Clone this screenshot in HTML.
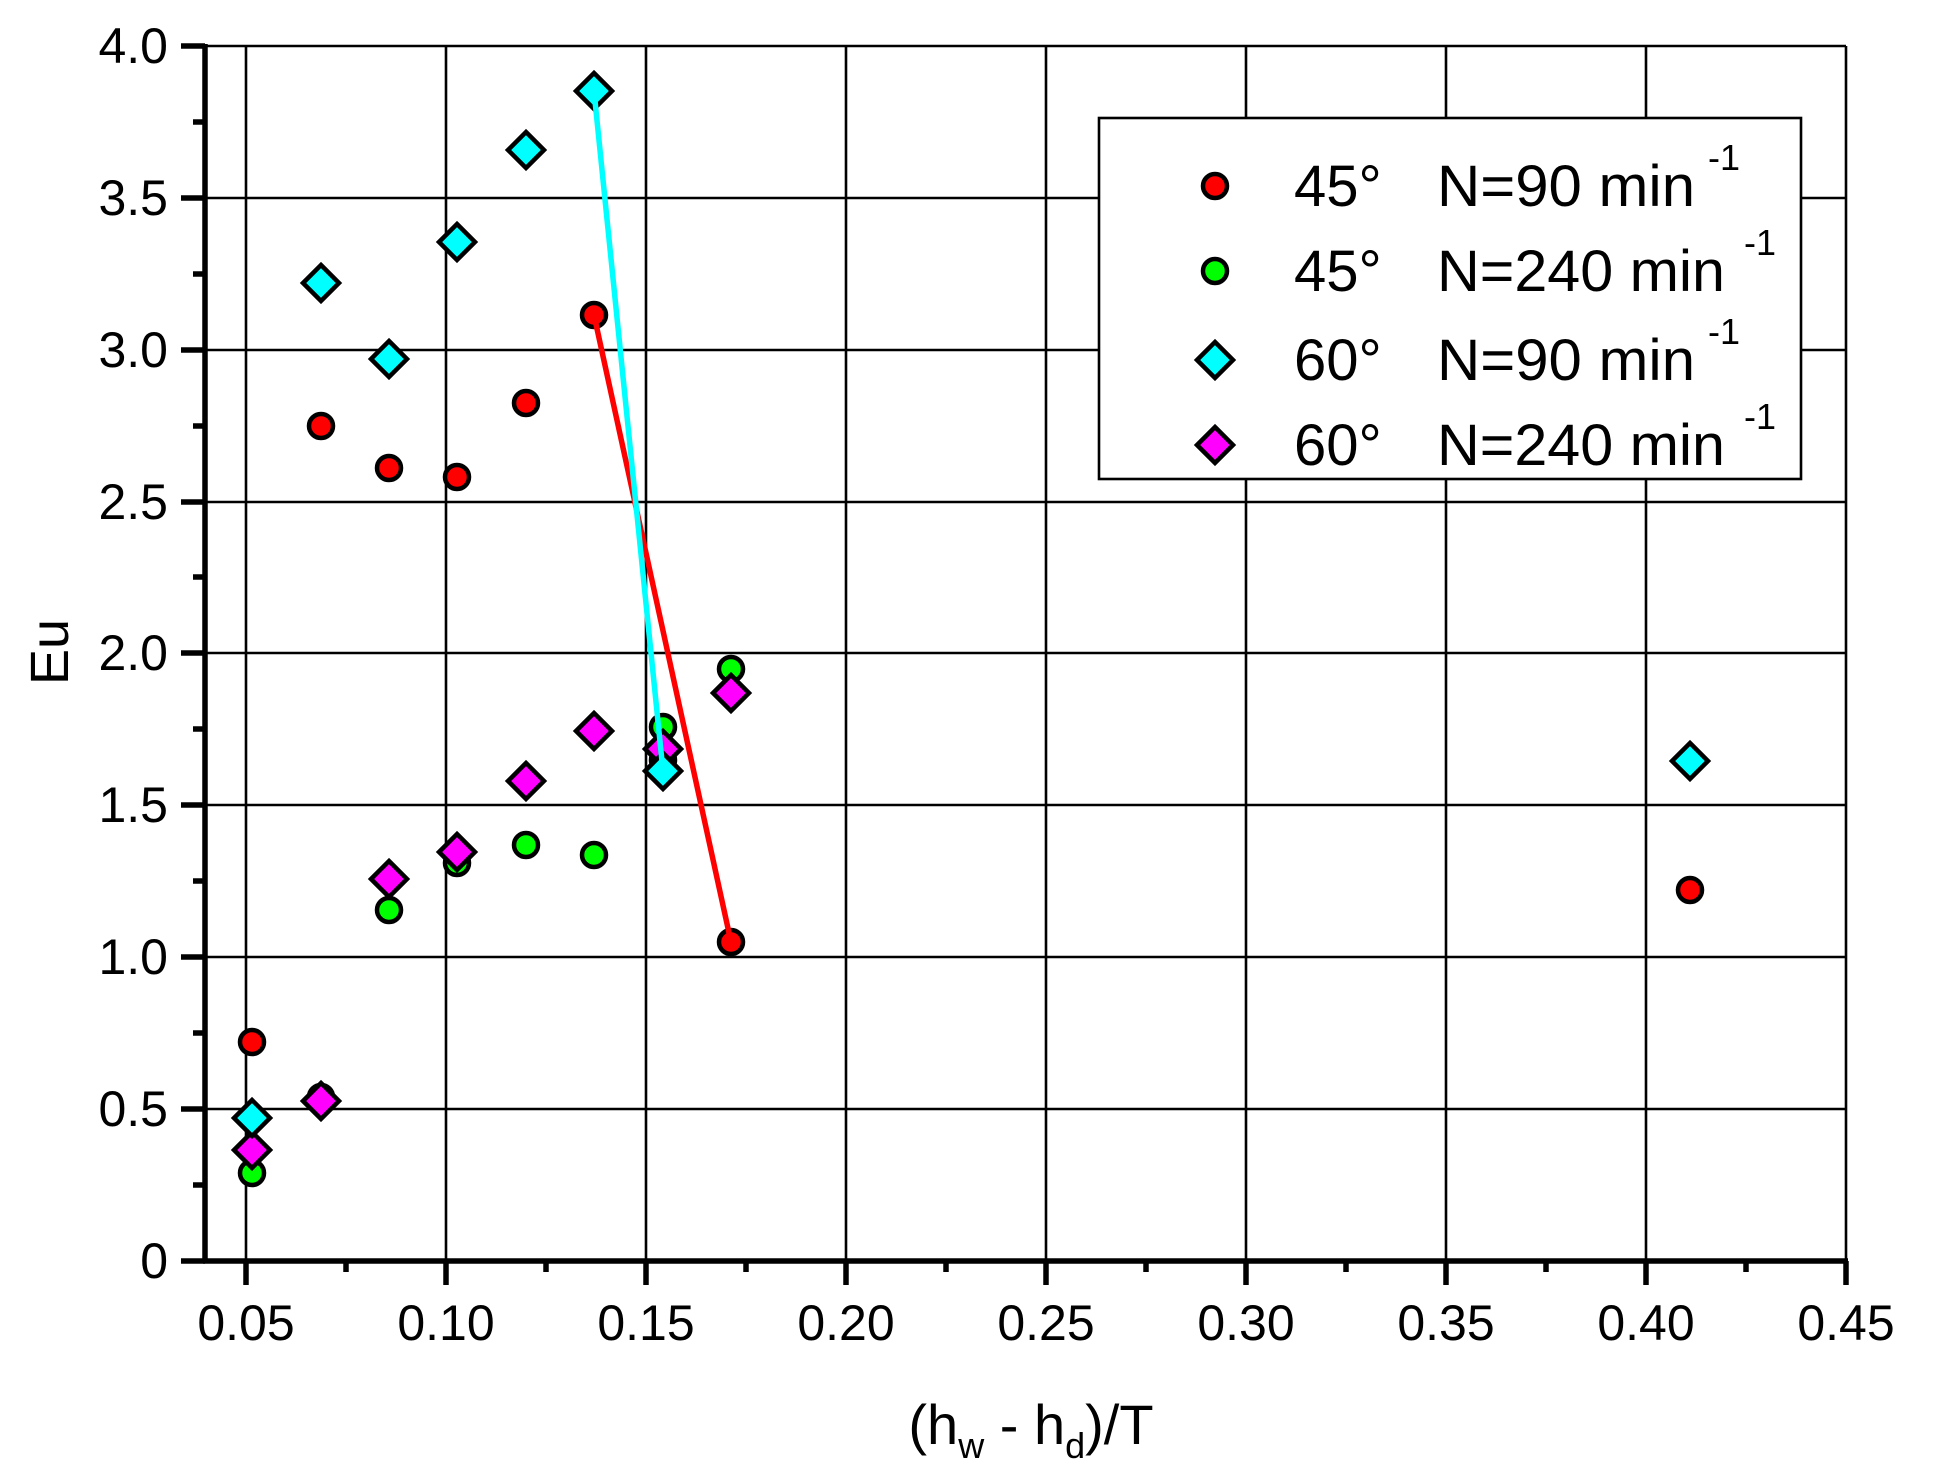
<!DOCTYPE html>
<html><head><style>html,body{margin:0;padding:0;background:#fff;}svg{display:block;}</style></head>
<body>
<svg width="1933" height="1469" viewBox="0 0 1933 1469" xmlns="http://www.w3.org/2000/svg" font-family="Liberation Sans, Arial, sans-serif">
<rect width="1933" height="1469" fill="#fff"/>
<g stroke="#000" stroke-width="2.6">
<line x1="246" y1="46" x2="246" y2="1261"/><line x1="446" y1="46" x2="446" y2="1261"/><line x1="646" y1="46" x2="646" y2="1261"/><line x1="846" y1="46" x2="846" y2="1261"/><line x1="1046" y1="46" x2="1046" y2="1261"/><line x1="1246" y1="46" x2="1246" y2="1261"/><line x1="1446" y1="46" x2="1446" y2="1261"/><line x1="1646" y1="46" x2="1646" y2="1261"/><line x1="1846" y1="46" x2="1846" y2="1261"/>
<line x1="205" y1="46" x2="1846" y2="46"/><line x1="205" y1="198" x2="1846" y2="198"/><line x1="205" y1="350" x2="1846" y2="350"/><line x1="205" y1="502" x2="1846" y2="502"/><line x1="205" y1="653" x2="1846" y2="653"/><line x1="205" y1="805" x2="1846" y2="805"/><line x1="205" y1="957" x2="1846" y2="957"/><line x1="205" y1="1109" x2="1846" y2="1109"/>
</g>
<g stroke="#000" stroke-width="5.5">
<line x1="205" y1="44" x2="205" y2="1263"/>
<line x1="203" y1="1261" x2="1848" y2="1261"/>
<line x1="181" y1="46" x2="205" y2="46"/><line x1="181" y1="198" x2="205" y2="198"/><line x1="181" y1="350" x2="205" y2="350"/><line x1="181" y1="502" x2="205" y2="502"/><line x1="181" y1="653" x2="205" y2="653"/><line x1="181" y1="805" x2="205" y2="805"/><line x1="181" y1="957" x2="205" y2="957"/><line x1="181" y1="1109" x2="205" y2="1109"/><line x1="181" y1="1261" x2="205" y2="1261"/>
<line x1="193" y1="122" x2="205" y2="122"/><line x1="193" y1="274" x2="205" y2="274"/><line x1="193" y1="426" x2="205" y2="426"/><line x1="193" y1="577" x2="205" y2="577"/><line x1="193" y1="729" x2="205" y2="729"/><line x1="193" y1="881" x2="205" y2="881"/><line x1="193" y1="1033" x2="205" y2="1033"/><line x1="193" y1="1185" x2="205" y2="1185"/>
<line x1="246" y1="1261" x2="246" y2="1285"/><line x1="446" y1="1261" x2="446" y2="1285"/><line x1="646" y1="1261" x2="646" y2="1285"/><line x1="846" y1="1261" x2="846" y2="1285"/><line x1="1046" y1="1261" x2="1046" y2="1285"/><line x1="1246" y1="1261" x2="1246" y2="1285"/><line x1="1446" y1="1261" x2="1446" y2="1285"/><line x1="1646" y1="1261" x2="1646" y2="1285"/><line x1="1846" y1="1261" x2="1846" y2="1285"/>
<line x1="346" y1="1261" x2="346" y2="1272"/><line x1="546" y1="1261" x2="546" y2="1272"/><line x1="746" y1="1261" x2="746" y2="1272"/><line x1="946" y1="1261" x2="946" y2="1272"/><line x1="1146" y1="1261" x2="1146" y2="1272"/><line x1="1346" y1="1261" x2="1346" y2="1272"/><line x1="1546" y1="1261" x2="1546" y2="1272"/><line x1="1746" y1="1261" x2="1746" y2="1272"/>
</g>
<g font-size="50" text-anchor="end" fill="#000">
<text x="168" y="63">4.0</text><text x="168" y="215">3.5</text><text x="168" y="367">3.0</text><text x="168" y="519">2.5</text><text x="168" y="670">2.0</text><text x="168" y="822">1.5</text><text x="168" y="974">1.0</text><text x="168" y="1126">0.5</text><text x="168" y="1278">0</text>
</g>
<g font-size="50" text-anchor="middle" fill="#000">
<text x="246" y="1340">0.05</text><text x="446" y="1340">0.10</text><text x="646" y="1340">0.15</text><text x="846" y="1340">0.20</text><text x="1046" y="1340">0.25</text><text x="1246" y="1340">0.30</text><text x="1446" y="1340">0.35</text><text x="1646" y="1340">0.40</text><text x="1846" y="1340">0.45</text>
</g>
<text x="0" y="0" font-size="54" text-anchor="middle" transform="translate(68,652) rotate(-90)">Eu</text>
<text x="1031" y="1444" font-size="56" text-anchor="middle">(h<tspan font-size="36" dy="14">w</tspan><tspan dy="-14"> - h</tspan><tspan font-size="36" dy="14">d</tspan><tspan dy="-14">)/T</tspan></text>

<g stroke="#000" stroke-width="4.5">
<g fill="#ff0000">
<circle cx="252" cy="1042" r="12"/><circle cx="321" cy="426" r="12"/><circle cx="389" cy="468" r="12"/><circle cx="457" cy="477" r="12"/><circle cx="526" cy="403" r="12"/><circle cx="594" cy="315" r="12"/><circle cx="663" cy="760" r="12"/><circle cx="731" cy="942" r="12"/><circle cx="1690" cy="890" r="12"/>
</g>
<g fill="#00ff00">
<circle cx="252" cy="1173" r="12"/><circle cx="321" cy="1097" r="12"/><circle cx="389" cy="910" r="12"/><circle cx="457" cy="863" r="12"/><circle cx="526" cy="845" r="12"/><circle cx="594" cy="855" r="12"/><circle cx="663" cy="727" r="12"/><circle cx="731" cy="669" r="12"/>
</g>
<g fill="#ff00ff">
<path d="M252 1132 l18 18 l-18 18 l-18 -18z"/><path d="M321 1083 l18 18 l-18 18 l-18 -18z"/><path d="M389 861 l18 18 l-18 18 l-18 -18z"/><path d="M457 834 l18 18 l-18 18 l-18 -18z"/><path d="M526 763 l18 18 l-18 18 l-18 -18z"/><path d="M594 713 l18 18 l-18 18 l-18 -18z"/><path d="M663 731 l18 18 l-18 18 l-18 -18z"/><path d="M731 675 l18 18 l-18 18 l-18 -18z"/>
</g>
<g fill="#00ffff">
<path d="M252 1100 l18 18 l-18 18 l-18 -18z"/><path d="M321 265 l18 18 l-18 18 l-18 -18z"/><path d="M389 341 l18 18 l-18 18 l-18 -18z"/><path d="M457 224 l18 18 l-18 18 l-18 -18z"/><path d="M526 132 l18 18 l-18 18 l-18 -18z"/><path d="M594 73 l18 18 l-18 18 l-18 -18z"/><path d="M663 753 l18 18 l-18 18 l-18 -18z"/><path d="M1690 743 l18 18 l-18 18 l-18 -18z"/>
</g>
</g>
<line x1="594" y1="315" x2="731" y2="942" stroke="#ff0000" stroke-width="5.5"/>
<line x1="594" y1="91" x2="663" y2="771" stroke="#00ffff" stroke-width="5.5"/>

<rect x="1099" y="118" width="702" height="361" fill="#fff" stroke="#000" stroke-width="2.6"/>
<g stroke="#000" stroke-width="4.5">
<circle cx="1215" cy="186" r="12" fill="#ff0000"/>
<circle cx="1215" cy="271" r="12" fill="#00ff00"/>
<path d="M1215 342 l18 18 l-18 18 l-18 -18z" fill="#00ffff"/>
<path d="M1215 427 l18 18 l-18 18 l-18 -18z" fill="#ff00ff"/>
</g>
<g font-size="58" fill="#000">
<text x="1294" y="206">45°</text><text x="1437" y="206" textLength="258" lengthAdjust="spacingAndGlyphs">N=90 min</text><text x="1708" y="170" font-size="36">-1</text>
<text x="1294" y="291">45°</text><text x="1437" y="291" textLength="288" lengthAdjust="spacingAndGlyphs">N=240 min</text><text x="1744" y="255" font-size="36">-1</text>
<text x="1294" y="380">60°</text><text x="1437" y="380" textLength="258" lengthAdjust="spacingAndGlyphs">N=90 min</text><text x="1708" y="344" font-size="36">-1</text>
<text x="1294" y="465">60°</text><text x="1437" y="465" textLength="288" lengthAdjust="spacingAndGlyphs">N=240 min</text><text x="1744" y="429" font-size="36">-1</text>
</g>
</svg>
</body></html>
